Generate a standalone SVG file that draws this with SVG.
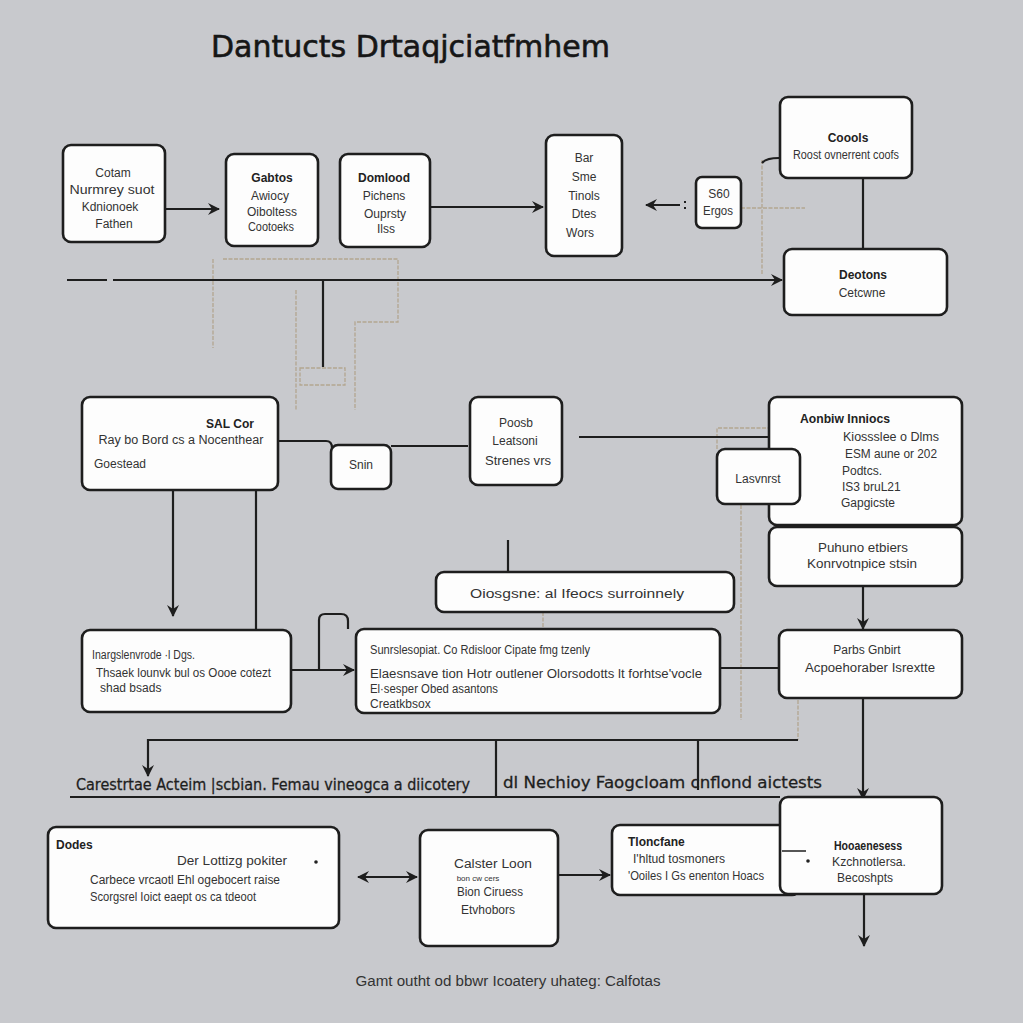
<svg xmlns="http://www.w3.org/2000/svg" width="1023" height="1023" viewBox="0 0 1023 1023">
<defs>
<marker id="ah" viewBox="0 0 12 12" refX="11" refY="6" markerWidth="12" markerHeight="12" markerUnits="userSpaceOnUse" orient="auto-start-reverse">
<path d="M0,0 L12,6 L0,12 L4,6 Z" fill="#1e1e1e"/>
</marker>
<style>
.bx{fill:#fdfdfd;stroke:#1e1e1e;stroke-width:2.6}
.ln{fill:none;stroke:#1e1e1e;stroke-width:2.2}
.fl{fill:none;stroke:#b3a690;stroke-width:1.3;stroke-dasharray:4 1.5}
.t{font-family:"Liberation Sans","DejaVu Sans",sans-serif;font-size:12px;fill:#333}
.b{font-weight:bold;fill:#222}
.c{text-anchor:middle}
.title{font-family:"DejaVu Sans","Liberation Sans",sans-serif;font-size:30px;fill:#161616;stroke:#161616;stroke-width:0.6}
.sep{font-family:"DejaVu Sans","Liberation Sans",sans-serif;font-size:16px;fill:#1e1e1e;stroke:#1e1e1e;stroke-width:0.3}
</style>
</defs>
<rect width="1023" height="1023" fill="#c8c9cd"/>
<text class="title" x="211" y="57" textLength="399" lengthAdjust="spacingAndGlyphs">Dantucts Drtaqjciatfmhem</text>

<g id="connectors">
<path class="fl" d="M223,259 H398 V322 H355 V410"/>
<path class="fl" d="M213,259 V348"/>
<path class="fl" d="M296,290 V410"/>
<path class="fl" d="M300,368 H345 V385 H300 Z"/>
<path class="fl" d="M741,208 H805"/>
<path class="fl" d="M762,160 V275"/>
<path class="fl" d="M717,449 V428 H769"/>
<path class="fl" d="M741,505 V720"/>
<path class="fl" d="M543,612 V630"/>
<path class="fl" d="M798,700 V740"/>
<path class="ln" d="M762,163 Q766,158 779,158"/>
<line class="ln" x1="165" y1="209" x2="219" y2="209" marker-end="url(#ah)"/>
<line class="ln" x1="430" y1="207" x2="543" y2="207" marker-end="url(#ah)"/>
<line class="ln" x1="680" y1="205" x2="646" y2="205" marker-end="url(#ah)"/>
<path class="ln" d="M684,202 h3 M684,208 h3" stroke-dasharray="2 2"/>
<line class="ln" x1="863" y1="178" x2="863" y2="249"/>
<line class="ln" x1="67" y1="280" x2="107" y2="280"/>
<line class="ln" x1="113" y1="280" x2="782" y2="280" marker-end="url(#ah)"/>
<line class="ln" x1="323" y1="280" x2="323" y2="367"/>
<path class="ln" d="M278,441 H326 Q332,441 332,448"/>
<line class="ln" x1="391" y1="446" x2="468" y2="446"/>
<line class="ln" x1="579" y1="437" x2="813" y2="437"/>
<path class="ln" d="M817,437 h4 M825,437 h4" />
<line class="ln" x1="864" y1="500" x2="864" y2="526" marker-end="url(#ah)"/>
<line class="ln" x1="863" y1="586" x2="863" y2="629" marker-end="url(#ah)"/>
<line class="ln" x1="863" y1="698" x2="863" y2="799" marker-end="url(#ah)"/>
<line class="ln" x1="864" y1="894" x2="864" y2="946" marker-end="url(#ah)"/>
<line class="ln" x1="720" y1="668" x2="779" y2="668"/>
<line class="ln" x1="173" y1="490" x2="173" y2="616" marker-end="url(#ah)"/>
<line class="ln" x1="256" y1="490" x2="256" y2="630"/>
<line class="ln" x1="508" y1="540" x2="508" y2="572"/>
<line class="ln" x1="291" y1="670" x2="354" y2="670" marker-end="url(#ah)"/>
<path class="ln" d="M319,670 V620 Q319,614 325,614 H341 Q348,614 348,621 V629"/>
<path class="ln" d="M148,776 V740 H798" marker-start="url(#ah)"/>
<line class="ln" x1="698" y1="740" x2="698" y2="790"/>
<line class="ln" x1="496" y1="740" x2="496" y2="797"/>
<line class="ln" x1="70" y1="797" x2="780" y2="797"/>
<line class="ln" x1="358" y1="877" x2="417" y2="877" marker-start="url(#ah)" marker-end="url(#ah)"/>
<line class="ln" x1="558" y1="875" x2="610" y2="875" marker-end="url(#ah)"/>
</g>

<text class="sep" x="76" y="790" textLength="394" lengthAdjust="spacingAndGlyphs">Carestrtae Acteim |scbian. Femau vineogca a diicotery</text>
<text class="sep" x="503" y="788" textLength="319" lengthAdjust="spacingAndGlyphs">dl Nechioy  Faogcloam  cnflond aictests</text>

<g id="nA"><rect class="bx" x="63" y="145" width="102" height="97" rx="8"/>
<text class="t c" x="113" y="177">Cotam</text>
<text class="t c" x="112" y="194" textLength="85" lengthAdjust="spacingAndGlyphs">Nurmrey suot</text>
<text class="t c" x="110" y="211">Kdnionoek</text>
<text class="t c" x="114" y="228">Fathen</text></g>

<g id="nB"><rect class="bx" x="226" y="154" width="92" height="92" rx="8"/>
<text class="t c b" x="272" y="182">Gabtos</text>
<text class="t c" x="270" y="200">Awiocy</text>
<text class="t c" x="272" y="216" textLength="50" lengthAdjust="spacingAndGlyphs">Oiboltess</text>
<text class="t c" x="271" y="231" textLength="46" lengthAdjust="spacingAndGlyphs">Cootoeks</text></g>

<g id="nC"><rect class="bx" x="340" y="154" width="90" height="93" rx="8"/>
<text class="t c b" x="384" y="182">Domlood</text>
<text class="t c" x="384" y="200">Pichens</text>
<text class="t c" x="385" y="218">Ouprsty</text>
<text class="t c" x="386" y="233">Ilss</text></g>

<g id="nD"><rect class="bx" x="546" y="135" width="76" height="121" rx="8"/>
<text class="t c" x="584" y="162">Bar</text>
<text class="t c" x="584" y="181">Sme</text>
<text class="t c" x="584" y="200">Tinols</text>
<text class="t c" x="584" y="218">Dtes</text>
<text class="t c" x="580" y="237">Wors</text></g>

<g id="nE"><rect class="bx" x="696" y="177" width="45" height="51" rx="6"/>
<text class="t c" x="719" y="198">S60</text>
<text class="t c" x="718" y="215" textLength="30" lengthAdjust="spacingAndGlyphs">Ergos</text></g>

<g id="nF"><rect class="bx" x="780" y="97" width="132" height="81" rx="8"/>
<text class="t c b" x="848" y="142">Coools</text>
<text class="t c" x="846" y="159" textLength="106" lengthAdjust="spacingAndGlyphs">Roost ovnerrent coofs</text></g>

<g id="nG"><rect class="bx" x="784" y="249" width="163" height="66" rx="8"/>
<text class="t c b" x="863" y="279">Deotons</text>
<text class="t c" x="862" y="297">Cetcwne</text></g>

<g id="nH"><rect class="bx" x="82" y="397" width="196" height="93" rx="8"/>
<text class="t c b" x="230" y="428">SAL Cor</text>
<text class="t c" x="181" y="444" textLength="165" lengthAdjust="spacingAndGlyphs">Ray bo Bord cs a Nocenthear</text>
<text class="t" x="94" y="468">Goestead</text></g>

<g id="nI"><rect class="bx" x="331" y="445" width="60" height="44" rx="7"/>
<text class="t c" x="361" y="469">Snin</text></g>

<g id="nJ"><rect class="bx" x="470" y="397" width="92" height="88" rx="8"/>
<text class="t c" x="516" y="427">Poosb</text>
<text class="t c" x="515" y="445">Leatsoni</text>
<text class="t c" x="518" y="465" textLength="66" lengthAdjust="spacingAndGlyphs">Strenes vrs</text></g>

<g id="nK"><rect class="bx" x="769" y="397" width="193" height="128" rx="8"/>
<text class="t b" x="800" y="423" textLength="90" lengthAdjust="spacingAndGlyphs">Aonbiw Inniocs</text>
<text class="t" x="843" y="441" textLength="96" lengthAdjust="spacingAndGlyphs">Kiossslee o Dlms</text>
<text class="t" x="845" y="458" textLength="92" lengthAdjust="spacingAndGlyphs">ESM aune or 202</text>
<text class="t" x="842" y="475">Podtcs.</text>
<text class="t" x="842" y="491">IS3 bruL21</text>
<text class="t" x="841" y="507">Gapgicste</text></g>

<g id="nL"><rect class="bx" x="717" y="449" width="83" height="55" rx="8"/>
<text class="t c" x="758" y="483">Lasvnrst</text></g>

<g id="nM"><rect class="bx" x="769" y="527" width="193" height="59" rx="8"/>
<text class="t c" x="863" y="552" textLength="90" lengthAdjust="spacingAndGlyphs">Puhuno etbiers</text>
<text class="t c" x="862" y="568" textLength="110" lengthAdjust="spacingAndGlyphs">Konrvotnpice stsin</text></g>

<g id="nN"><rect class="bx" x="436" y="572" width="298" height="40" rx="8"/>
<text class="t c" x="577" y="598" textLength="214" lengthAdjust="spacingAndGlyphs">Oiosgsne: al Ifeocs surroinnely</text></g>

<g id="nO"><rect class="bx" x="82" y="630" width="209" height="82" rx="8"/>
<text class="t" x="92" y="659" textLength="103" lengthAdjust="spacingAndGlyphs">Inargslenvrode ·l Dgs.</text>
<text class="t" x="96" y="677" textLength="175" lengthAdjust="spacingAndGlyphs">Thsaek lounvk bul os Oooe cotezt</text>
<text class="t" x="100" y="692">shad bsads</text></g>

<g id="nP"><rect class="bx" x="356" y="629" width="364" height="84" rx="8"/>
<text class="t" x="370" y="654" textLength="220" lengthAdjust="spacingAndGlyphs">Sunrslesopiat. Co Rdisloor Cipate fmg tzenly</text>
<text class="t" x="370" y="678" textLength="332" lengthAdjust="spacingAndGlyphs">Elaesnsave tion Hotr outlener Olorsodotts lt forhtse'vocle</text>
<text class="t" x="370" y="693" textLength="128" lengthAdjust="spacingAndGlyphs">El·sesper Obed asantons</text>
<text class="t" x="370" y="708">Creatkbsox</text></g>

<g id="nQ"><rect class="bx" x="779" y="630" width="183" height="68" rx="8"/>
<text class="t c" x="867" y="654">Parbs Gnbirt</text>
<text class="t c" x="870" y="672" textLength="130" lengthAdjust="spacingAndGlyphs">Acpoehoraber Isrextte</text></g>

<g id="nR"><rect class="bx" x="48" y="827" width="291" height="101" rx="8"/>
<text class="t b" x="56" y="849">Dodes</text>
<text class="t c" x="232" y="865" textLength="110" lengthAdjust="spacingAndGlyphs">Der Lottizg pokiter</text>
<text class="t" x="90" y="884" textLength="190" lengthAdjust="spacingAndGlyphs">Carbece vrcaotl Ehl ogebocert raise</text>
<text class="t" x="90" y="901" textLength="166" lengthAdjust="spacingAndGlyphs">Scorgsrel Ioict eaept os ca tdeoot</text>
<circle cx="316" cy="862" r="1.8" fill="#222"/></g>

<g id="nS"><rect class="bx" x="420" y="830" width="138" height="116" rx="8"/>
<text class="t c" x="493" y="868" textLength="78" lengthAdjust="spacingAndGlyphs">Calster Loon</text>
<text class="t c" x="478" y="881" style="font-size:8px">bon cw cers</text>
<text class="t c" x="490" y="896" textLength="66" lengthAdjust="spacingAndGlyphs">Bion Ciruess</text>
<text class="t c" x="488" y="914">Etvhobors</text></g>

<g id="nT"><rect class="bx" x="612" y="825" width="188" height="70" rx="8"/>
<text class="t b" x="628" y="846">Tloncfane</text>
<text class="t" x="633" y="863" textLength="92" lengthAdjust="spacingAndGlyphs">I'hltud tosmoners</text>
<text class="t" x="628" y="880" textLength="136" lengthAdjust="spacingAndGlyphs">'Ooiles I Gs enenton Hoacs</text></g>

<g id="nU"><rect class="bx" x="780" y="797" width="162" height="97" rx="8"/>
<text class="t c b" x="868" y="850" textLength="68" lengthAdjust="spacingAndGlyphs">Hooaenesess</text>
<text class="t c" x="869" y="866" textLength="74" lengthAdjust="spacingAndGlyphs">Kzchnotlersa.</text>
<text class="t c" x="865" y="882">Becoshpts</text>
<line class="ln" x1="782" y1="851" x2="806" y2="851" style="stroke-width:1.5"/>
<circle cx="808" cy="861" r="1.8" fill="#222"/></g>

<text class="t c" x="508" y="986" style="font-size:14px" textLength="305" lengthAdjust="spacingAndGlyphs">Gamt outht od bbwr Icoatery uhateg: Calfotas</text>
</svg>
